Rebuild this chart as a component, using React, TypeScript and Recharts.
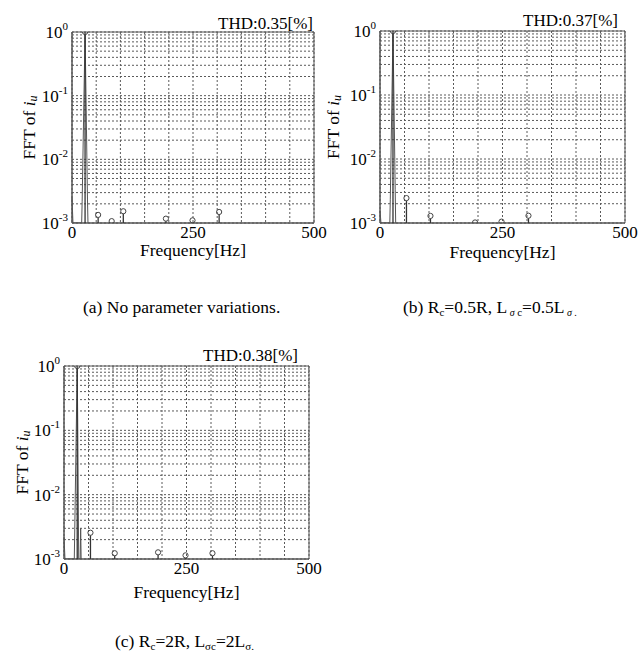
import React from "react";
import {
  ComposedChart,
  Line,
  Scatter,
  XAxis,
  YAxis,
  CartesianGrid,
  ReferenceArea,
} from "recharts";

const SERIF = "Liberation Serif";
const FONT = '"Liberation Serif", "Times New Roman", serif';
const TXT = { fontFamily: FONT };

// axis ticks
const xTicks = [0, 50, 100, 150, 200, 250, 300, 350, 400, 450, 500];
const xLabels = [0, 250, 500];
const yTicks = [
  0.001, 0.002, 0.003, 0.004, 0.005, 0.006, 0.007, 0.008, 0.009,
  0.01, 0.02, 0.03, 0.04, 0.05, 0.06, 0.07, 0.08, 0.09,
  0.1, 0.2, 0.3, 0.4, 0.5, 0.6, 0.7, 0.8, 0.9,
  1,
];

// (a) no parameter variations
const thdA = "THD:0.35[%]";
const specFreqA = [0, 2, 20, 21, 27, 32, 33];
const specMagA = [0.0025, 0.001, 0.001, 0.0022, 1, 0.0023, 0.001];
const harmFreqA = [27, 54, 82, 106, 194, 249, 304];
const harmMagA = [1, 0.00134, 0.00107, 0.00153, 0.00117, 0.0011, 0.00149];

// (b) Rc=0.5R, Lσc=0.5Lσ
const thdB = "THD:0.37[%]";
const specFreqB = [0, 2, 20, 21, 26.5, 31, 32];
const specMagB = [0.00156, 0.001, 0.001, 0.0023, 1, 0.0033, 0.001];
const harmFreqB = [26.5, 54, 103, 194, 248, 303];
const harmMagB = [1, 0.00245, 0.00129, 0.00102, 0.00105, 0.0013];

// (c) Rc=2R, Lσc=2Lσ
const thdC = "THD:0.38[%]";
const specFreqC = [0, 2, 21, 22, 27, 28, 30, 33, 34, 35];
const specMagC = [0.0022, 0.001, 0.001, 0.003, 1, 0.13, 0.001, 0.001, 0.003, 0.001];
const harmFreqC = [27, 54, 103.5, 192, 248, 303];
const harmMagC = [1, 0.00256, 0.00123, 0.00127, 0.00114, 0.00123];

const toPoints = (fs: number[], vs: number[]) => fs.map((f, i) => ({ f, v: vs[i] }));

const renderYTick = (props: any) => {
  const { x, y, payload } = props;
  const v = payload.value;
  const e = Math.round(Math.log10(v));
  if (Math.abs(Math.log10(v) - e) > 1e-6) return <g />;
  return (
    <text x={x} y={y} dy={6} textAnchor="end" fontSize={17} fontFamily={SERIF} style={TXT} fill="#000">
      10
      <tspan dy={-8} fontSize={11}>
        {e}
      </tspan>
    </text>
  );
};

const renderXTick = (props: any) => {
  const { x, y, payload } = props;
  if (!xLabels.includes(payload.value)) return <g />;
  return (
    <text x={x} y={y} dy={12} textAnchor="middle" fontSize={17} fontFamily={SERIF} style={TXT} fill="#000">
      {payload.value}
    </text>
  );
};

type PanelProps = {
  left: number;
  top: number;
  width: number;
  height: number;
  plot: { l: number; r: number; t: number; b: number };
  thd: string;
  thdDx: number;
  thdDy: number;
  yLabelDx: number;
  xLabelDy: number;
  spec: { f: number; v: number }[];
  harm: { f: number; v: number }[];
};

const Panel = (p: PanelProps) => {
  const YW = 60;
  const XH = 45;
  const margin = {
    top: p.plot.t,
    right: p.width - p.plot.r,
    left: p.plot.l - YW,
    bottom: p.height - p.plot.b - XH,
  };
  const stem = (s: any) => {
    const { cx, cy } = s;
    return (
      <g>
        <line x1={cx} x2={cx} y1={cy + 2.6} y2={p.plot.b} stroke="#333" strokeWidth={1.3} />
        <circle cx={cx} cy={cy} r={2.6} fill="none" stroke="#444" strokeWidth={1} />
      </g>
    );
  };
  return (
    <div style={{ position: "absolute", left: p.left, top: p.top, fontFamily: FONT }}>
      <ComposedChart width={p.width} height={p.height} margin={margin} style={{ fontFamily: FONT }}>
        <CartesianGrid stroke="#5a5a5a" strokeDasharray="2 2" />
        <XAxis
          dataKey="f"
          type="number"
          domain={[0, 500]}
          ticks={xTicks}
          interval={0}
          tickLine={false}
          tickSize={0}
          tickMargin={3}
          height={XH}
          axisLine={{ stroke: "#555" }}
          tick={renderXTick}
          label={(lp: any) => {
            const vb = lp.viewBox;
            return (
              <text
                x={vb.x + vb.width / 2}
                y={vb.y + p.xLabelDy}
                textAnchor="middle"
                fontSize={17.5}
                fontFamily={SERIF}
                style={TXT}
                fill="#000"
              >
                Frequency[Hz]
              </text>
            );
          }}
        />
        <YAxis
          type="number"
          scale="log"
          domain={[0.001, 1]}
          allowDataOverflow
          ticks={yTicks}
          interval={0}
          tick={renderYTick}
          tickLine={false}
          tickSize={0}
          tickMargin={4}
          width={YW}
          axisLine={{ stroke: "#555" }}
          label={(lp: any) => {
            const vb = lp.viewBox;
            const cx = p.plot.l + p.yLabelDx;
            const cy = vb.y + vb.height / 2;
            return (
              <text
                x={cx}
                y={cy}
                transform={`rotate(-90 ${cx} ${cy})`}
                textAnchor="middle"
                dominantBaseline="central"
                fontSize={17.5}
                fontFamily={SERIF}
                style={TXT}
                fill="#000"
              >
                FFT of <tspan fontStyle="italic">i</tspan>
                <tspan fontStyle="italic" fontSize={12} dy={4}>
                  u
                </tspan>
              </text>
            );
          }}
        />
        <ReferenceArea
          x1={0}
          x2={500}
          y1={0.001}
          y2={1}
          fill="none"
          stroke="#555"
          strokeWidth={1}
          label={(lp: any) => {
            const vb = lp.viewBox;
            return (
              <text
                x={vb.x + vb.width + p.thdDx}
                y={vb.y + p.thdDy}
                textAnchor="end"
                fontSize={17}
                fontFamily={SERIF}
                style={TXT}
                fill="#000"
              >
                {p.thd}
              </text>
            );
          }}
        />
        <Line
          data={p.spec}
          dataKey="v"
          type="linear"
          stroke="#555"
          strokeWidth={1}
          dot={false}
          isAnimationActive={false}
        />
        <Scatter data={p.harm} dataKey="v" shape={stem} isAnimationActive={false} />
      </ComposedChart>
    </div>
  );
};

export default function App() {
  return (
    <div style={{ position: "absolute", left: 0, top: 0, width: 639, height: 652, background: "#fff", overflow: "hidden" }}>
      <Panel
        left={0}
        top={0}
        width={340}
        height={280}
        plot={{ l: 72, r: 314, t: 32, b: 223 }}
        thd={thdA}
        thdDx={-1}
        thdDy={-3}
        yLabelDx={-43}
        xLabelDy={33}
        spec={toPoints(specFreqA, specMagA)}
        harm={toPoints(harmFreqA, harmMagA)}
      />
      <Panel
        left={320}
        top={0}
        width={319}
        height={280}
        plot={{ l: 60, r: 305, t: 31, b: 223 }}
        thd={thdB}
        thdDx={-7}
        thdDy={-5}
        yLabelDx={-47}
        xLabelDy={35}
        spec={toPoints(specFreqB, specMagB)}
        harm={toPoints(harmFreqB, harmMagB)}
      />
      <Panel
        left={0}
        top={334}
        width={340}
        height={280}
        plot={{ l: 64, r: 309, t: 32, b: 225 }}
        thd={thdC}
        thdDx={-11}
        thdDy={-5}
        yLabelDx={-42}
        xLabelDy={39}
        spec={toPoints(specFreqC, specMagC)}
        harm={toPoints(harmFreqC, harmMagC)}
      />
      <svg
        width={639}
        height={652}
        style={{ position: "absolute", left: 0, top: 0, pointerEvents: "none", fontFamily: FONT }}
        fontSize={17.5}
      >
        <text x={83} y={313} fill="#000">
          (a) No parameter variations.
        </text>
        <text x={403} y={313} fill="#000">
          (b) R
          <tspan fontSize={11} dy={3}>c</tspan>
          <tspan dy={-3}>=0.5R, L</tspan>
          <tspan fontSize={10} dy={3} fontStyle="italic">{"\u00a0σ\u00a0"}</tspan>
          <tspan fontSize={11}>c</tspan>
          <tspan dy={-3}>=0.5L</tspan>
          <tspan fontSize={10} dy={3} fontStyle="italic">{"\u00a0σ\u00a0."}</tspan>
        </text>
        <text x={115} y={647} fill="#000">
          (c) R
          <tspan fontSize={11} dy={3}>c</tspan>
          <tspan dy={-3}>=2R, L</tspan>
          <tspan fontSize={11} dy={3}>σc</tspan>
          <tspan dy={-3}>=2L</tspan>
          <tspan fontSize={11} dy={3}>σ.</tspan>
        </text>
      </svg>
    </div>
  );
}
